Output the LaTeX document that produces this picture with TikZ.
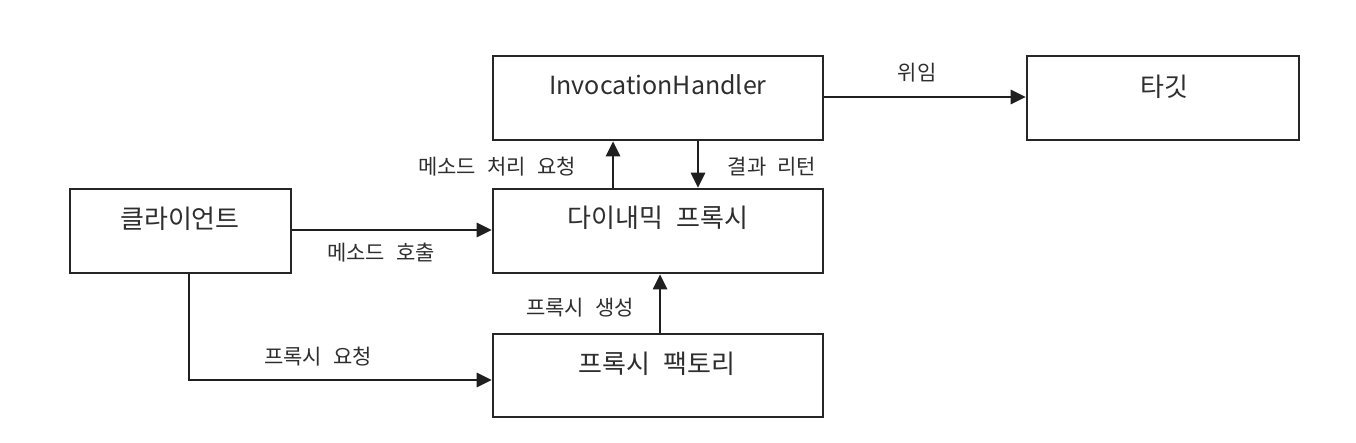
\documentclass[tikz,border=0pt]{standalone}
\usepackage{fontspec}
\setmainfont{Noto Sans CJK KR}
\newfontfamily\lblfont[WordSpace=2.8]{Noto Sans CJK KR}
\newfontfamily\boxfont[WordSpace=2.4]{Noto Sans CJK KR}
\usetikzlibrary{arrows.meta}
\begin{document}
\begin{tikzpicture}[x=1pt,y=-1pt,
  box/.style={draw=black!85, line width=2.6pt, minimum width=#1, inner sep=0pt},
  box/.default=330pt,
  boxtext/.style={font=\boxfont\fontsize{26}{30}\selectfont, text=black!82, inner sep=0pt},
  lbl/.style={font=\lblfont\fontsize{21}{25}\selectfont, text=black!82, inner sep=0pt},
  conn/.style={draw=black!88, line width=2.8pt, -{Triangle[length=15pt,width=14pt]}}]
\useasboundingbox (0,0) rectangle (1356,442);
% boxes
\node[box=330pt, minimum height=84pt] (ih) at (658,98) {};
\node[box=272pt, minimum height=84pt] (tg) at (1163,98) {};
\node[box=221pt, minimum height=84pt] (cl) at (180.5,231) {};
\node[box=330pt, minimum height=84pt] (dp) at (658,231) {};
\node[box=330pt, minimum height=83pt] (pf) at (658,375.5) {};
% box texts
\node[boxtext, font=\fontsize{25}{29}\selectfont] (tih) at (658,85) {InvocationHandler};
\node[boxtext] (ttg) at (1164,87) {타깃};
\node[boxtext] (tcl) at (180,219) {클라이언트};
\node[boxtext] (tdp) at (658,218) {다이내믹 프록시};
\node[boxtext] (tpf) at (657,364) {프록시 팩토리};
% connectors
\coordinate (cld) at (189,273);
\coordinate (clc) at (189,380);
\draw[conn] (ih.east |- 0,97) -- (tg.west |- 0,97);
\draw[conn] (cl.east |- 0,230) -- (dp.west |- 0,230);
\draw[conn] (cld) -- (clc) -- (pf.west |- clc);
\draw[conn] (pf.north -| 660,0) -- (dp.south -| 660,0);
\draw[conn] (dp.north -| 613,0) -- (ih.south -| 613,0);
\draw[conn] (ih.south -| 698,0) -- (dp.north -| 698,0);
% labels
\node[lbl] (l1) at (917,73) {위임};
\node[lbl] (l2) at (497,167) {메소드 처리 요청};
\node[lbl] (l3) at (772,167) {결과 리턴};
\node[lbl] (l4) at (381,253) {메소드 호출};
\node[lbl] (l5) at (318,357) {프록시 요청};
\node[lbl] (l6) at (580,308) {프록시 생성};
\end{tikzpicture}
\end{document}
